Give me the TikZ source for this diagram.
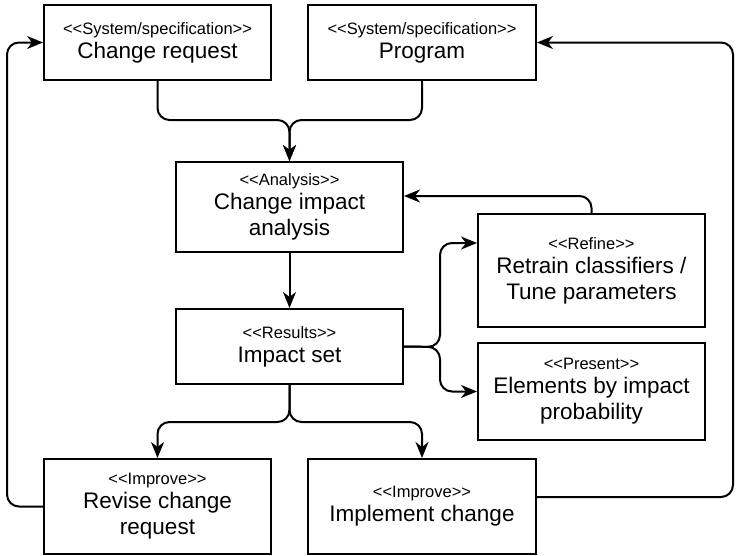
\documentclass[tikz,border=0pt]{standalone}
\usepackage{fontspec}
\setmainfont{Liberation Sans}[Ligatures=TeXOff]
\usepackage{tikz}
\usetikzlibrary{shapes,arrows,arrows.meta}

\newcommand{\stype}[1]{{\fontsize{16.5}{17}\selectfont <<#1>>}\\[-2pt]}

\begin{document}
\begin{tikzpicture}[x=1pt, y=-1pt, line width=2pt, >={Stealth[length=16pt,width=13pt,inset=5pt]},
	block/.style={draw, rectangle, line width=2pt, align=center, inner sep=0pt,
		font=\fontsize{22.5}{26}\selectfont},
	flow/.style={->, line width=2pt, rounded corners=12pt}]

\useasboundingbox (0,0) rectangle (736,555);
				% boxes
				\node at (157.5,42.5) [block, minimum width=227, minimum height=75] (creq) {\stype{System/specification}Change request};
				\node at (422,42.5) [block, minimum width=228, minimum height=75] (prog) {\stype{System/specification}Program};
				\node at (289.5,207) [block, minimum width=227, minimum height=90] (cia) {\stype{Analysis}Change impact\\analysis};
				\node at (591.5,270.5) [block, minimum width=227, minimum height=113] (retrain) {\stype{Refine}Retrain classifiers /\\Tune parameters};
				\node at (289.5,346.5) [block, minimum width=227, minimum height=75] (iset) {\stype{Results}Impact set};
				\node at (591.5,391.5) [block, minimum width=227, minimum height=97] (elem) {\stype{Present}Elements by impact\\probability};
				\node at (157.5,506.5) [block, minimum width=227, minimum height=95] (revise) {\stype{Improve}Revise change\\request};
				\node at (422,506.5) [block, minimum width=228, minimum height=95] (impl) {\stype{Improve}Implement change};

				% helper points
				\coordinate (merge) at (289.5,120);
				\coordinate (fork) at (440,347);
				\coordinate (split) at (289.5,422);
				\coordinate (loopl) at (7,42.5);
				\coordinate (loopr) at (733,42.5);

				% joining blocks
				\draw[flow] (creq.south) -- (creq.south |- merge) -- (merge) -- (cia.north);
				\draw[flow] (prog.south) -- (prog.south |- merge) -- (merge) -- (cia.north);
				\draw[flow] (cia.south) -- (iset.north);
				\draw[flow] (iset.east) -- (fork) |- ([yshift=27.5pt]retrain.west);
				\draw[flow] (iset.east) -- (fork) |- (elem.west);
				\draw[flow] (retrain.north) |- ([yshift=11pt]cia.east);
				\draw[flow] (iset.south) -- (split) -| (revise.north);
				\draw[flow] (iset.south) -- (split) -| (impl.north);
				\draw[flow] (revise.west) -| (loopl) -- (creq.west);
				\draw[flow] ([yshift=9.5pt]impl.east) -| (loopr) -- (prog.east);
  
\end{tikzpicture}
\end{document}
